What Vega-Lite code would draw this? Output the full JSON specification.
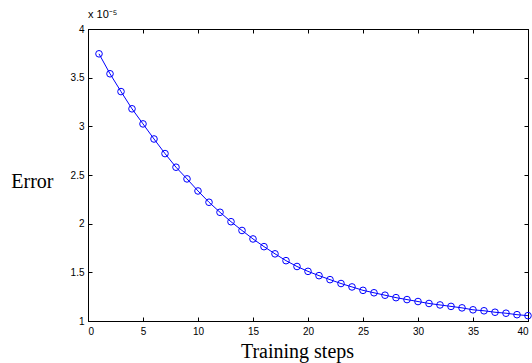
{
  "$schema": "https://vega.github.io/schema/vega-lite/v6.json",
  "width": 440,
  "height": 292,
  "autosize": {"type": "none"},
  "padding": {"left": 88, "top": 29, "right": 4, "bottom": 42},
  "background": "white",
  "config": {
    "view": {"stroke": "black", "strokeWidth": 1},
    "axis": {
      "grid": false,
      "domainColor": "black",
      "tickColor": "black",
      "labelColor": "black",
      "labelFont": "Liberation Sans",
      "labelFontSize": 10,
      "titleFont": "Liberation Serif",
      "titleFontWeight": "normal",
      "titleFontSize": 20,
      "titleColor": "black",
      "tickSize": -4
    }
  },
  "title": {
    "text": "x 10⁻⁵",
    "anchor": "start",
    "frame": "group",
    "font": "Liberation Sans",
    "fontSize": 11,
    "fontWeight": "normal",
    "color": "black",
    "offset": 4
  },
  "data": {
    "values": [
      {"step": 1, "error": 3.745},
      {"step": 2, "error": 3.54},
      {"step": 3, "error": 3.357},
      {"step": 4, "error": 3.18},
      {"step": 5, "error": 3.025},
      {"step": 6, "error": 2.87},
      {"step": 7, "error": 2.72},
      {"step": 8, "error": 2.58},
      {"step": 9, "error": 2.46},
      {"step": 10, "error": 2.336},
      {"step": 11, "error": 2.22},
      {"step": 12, "error": 2.117},
      {"step": 13, "error": 2.02},
      {"step": 14, "error": 1.93},
      {"step": 15, "error": 1.843},
      {"step": 16, "error": 1.764},
      {"step": 17, "error": 1.69},
      {"step": 18, "error": 1.62},
      {"step": 19, "error": 1.56},
      {"step": 20, "error": 1.51},
      {"step": 21, "error": 1.466},
      {"step": 22, "error": 1.425},
      {"step": 23, "error": 1.385},
      {"step": 24, "error": 1.35},
      {"step": 25, "error": 1.315},
      {"step": 26, "error": 1.29},
      {"step": 27, "error": 1.265},
      {"step": 28, "error": 1.24},
      {"step": 29, "error": 1.22},
      {"step": 30, "error": 1.2},
      {"step": 31, "error": 1.18},
      {"step": 32, "error": 1.165},
      {"step": 33, "error": 1.15},
      {"step": 34, "error": 1.135},
      {"step": 35, "error": 1.115},
      {"step": 36, "error": 1.105},
      {"step": 37, "error": 1.09},
      {"step": 38, "error": 1.08},
      {"step": 39, "error": 1.065},
      {"step": 40, "error": 1.055}
    ]
  },
  "layer": [
    {
      "mark": {"type": "line", "color": "#0000ff", "strokeWidth": 1},
      "encoding": {
        "x": {
          "field": "step", "type": "quantitative",
          "scale": {"domain": [0, 40], "nice": false},
          "axis": {"orient": "bottom", "values": [0,5,10,15,20,25,30,35,40], "format": "~g", "title": "Training steps", "titleX": 209, "titleAlign": "center", "titleY": 36, "titleBaseline": "alphabetic", "labelPadding": 9}
        },
        "y": {
          "field": "error", "type": "quantitative",
          "scale": {"domain": [1, 4], "nice": false, "zero": false},
          "axis": {"orient": "left", "values": [1,1.5,2,2.5,3,3.5,4], "format": "~g", "title": "Error", "titleAngle": 0, "titleAlign": "right", "titleX": -35, "titleY": 158, "titleBaseline": "alphabetic", "labelPadding": 8}
        }
      }
    },
    {
      "mark": {"type": "point", "shape": "circle", "filled": false, "color": "#0000ff", "size": 44, "strokeWidth": 1, "opacity": 1},
      "encoding": {
        "x": {
          "field": "step", "type": "quantitative",
          "scale": {"domain": [0, 40], "nice": false},
          "axis": {"orient": "top", "values": [0,5,10,15,20,25,30,35,40], "labels": false, "title": null}
        },
        "y": {
          "field": "error", "type": "quantitative",
          "scale": {"domain": [1, 4], "nice": false, "zero": false},
          "axis": {"orient": "right", "values": [1,1.5,2,2.5,3,3.5,4], "labels": false, "title": null}
        }
      }
    }
  ],
  "resolve": {"axis": {"x": "independent", "y": "independent"}}
}
